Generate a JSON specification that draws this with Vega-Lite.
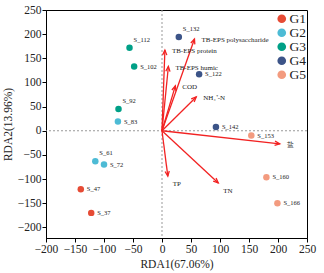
{
  "$schema": "https://vega.github.io/schema/vega-lite/v6.json",
  "width": 261,
  "height": 228,
  "autosize": {"type": "none"},
  "padding": {"left": 46, "top": 10, "right": 17, "bottom": 35},
  "config": {
    "view": {"stroke": "#000", "strokeWidth": 1},
    "font": "Liberation Serif",
    "axis": {
      "labelFont": "Liberation Serif", "labelFontSize": 11.5, "labelColor": "#222",
      "titleFont": "Liberation Serif", "titleFontSize": 11.5, "titleFontWeight": "normal", "titleColor": "#222",
      "domainColor": "#000", "tickColor": "#000", "tickSize": 4, "grid": false, "labelPadding": 1,
      "labelOverlap": false, "labelFlush": false, "tickCount": 10
    }
  },
  "datasets": {
    "samples": [
      {"sample": "S_37", "group": "G1", "x": -122, "y": -170, "pos": "side"},
      {"sample": "S_47", "group": "G1", "x": -140, "y": -121, "pos": "side"},
      {"sample": "S_61", "group": "G2", "x": -115, "y": -63, "pos": "above"},
      {"sample": "S_72", "group": "G2", "x": -100, "y": -70, "pos": "side"},
      {"sample": "S_83", "group": "G2", "x": -76, "y": 19, "pos": "side"},
      {"sample": "S_92", "group": "G3", "x": -75, "y": 45, "pos": "above"},
      {"sample": "S_102", "group": "G3", "x": -48, "y": 133, "pos": "side"},
      {"sample": "S_112", "group": "G3", "x": -56, "y": 172, "pos": "above"},
      {"sample": "S_122", "group": "G4", "x": 64, "y": 117, "pos": "side"},
      {"sample": "S_132", "group": "G4", "x": 29, "y": 194, "pos": "above"},
      {"sample": "S_142", "group": "G4", "x": 93, "y": 8, "pos": "side"},
      {"sample": "S_153", "group": "G5", "x": 154, "y": -10, "pos": "side"},
      {"sample": "S_160", "group": "G5", "x": 180, "y": -96, "pos": "side"},
      {"sample": "S_166", "group": "G5", "x": 199, "y": -150, "pos": "side"}
    ],
    "arrows": [
      {"name": "TB-EPS polysaccharide", "x": 56, "y": 190, "pos": "side"},
      {"name": "TB-EPS protein", "x": 5, "y": 167, "pos": "side"},
      {"name": "TB-EPS humic", "x": 11, "y": 133, "pos": "side"},
      {"name": "COD", "x": 23, "y": 93, "pos": "side"},
      {"name": "NH₄⁺-N", "x": 59, "y": 70, "pos": "side"},
      {"name": "盐", "x": 203, "y": -27, "pos": "side"},
      {"name": "TP", "x": 10, "y": -94, "pos": "below"},
      {"name": "TN", "x": 97, "y": -108, "pos": "below"}
    ],
    "zero": [{"v": 0}]
  },
  "layer": [
    {
      "data": {"name": "zero"},
      "mark": {"type": "rule", "color": "#999", "strokeDash": [2, 2], "strokeWidth": 1},
      "encoding": {"x": {"field": "v", "type": "quantitative", "title": "RDA1(67.06%)", "scale": {"domain": [-200, 250], "nice": false, "zero": false}, "axis": {"values": [-200, -150, -100, -50, 0, 50, 100, 150, 200, 250], "tickCount": 10}}}
    },
    {
      "data": {"name": "zero"},
      "mark": {"type": "rule", "color": "#999", "strokeDash": [2, 2], "strokeWidth": 1},
      "encoding": {"y": {"field": "v", "type": "quantitative", "title": "RDA2(13.96%)", "scale": {"domain": [-222, 250], "nice": false, "zero": false}, "axis": {"values": [-200, -150, -100, -50, 0, 50, 100, 150, 200, 250], "tickCount": 10}}}
    },
    {
      "data": {"name": "arrows"},
      "mark": {"type": "rule", "color": "#f22222", "strokeWidth": 1.3},
      "encoding": {
        "x": {"field": "x", "type": "quantitative"},
        "y": {"field": "y", "type": "quantitative"},
        "x2": {"datum": 0},
        "y2": {"datum": 0}
      }
    },
    {
      "data": {"name": "arrows"},
      "transform": [{"calculate": "atan2(datum.x * 0.58, datum.y * 0.483) * 180 / PI", "as": "ang"}],
      "mark": {"type": "point", "shape": "M-0.6,1.4L0,0L0.6,1.4", "filled": false, "stroke": "#f22222", "strokeWidth": 1.3, "size": 50, "opacity": 1},
      "encoding": {
        "x": {"field": "x", "type": "quantitative"},
        "y": {"field": "y", "type": "quantitative"},
        "angle": {"field": "ang", "type": "quantitative", "scale": null}
      }
    },
    {
      "data": {"name": "arrows"},
      "transform": [{"filter": "datum.pos == 'side'"}],
      "mark": {"type": "text", "align": "left", "baseline": "middle", "dx": 7, "dy": 1, "fontSize": 7, "font": "Liberation Serif", "color": "#222"},
      "encoding": {
        "x": {"field": "x", "type": "quantitative"},
        "y": {"field": "y", "type": "quantitative"},
        "text": {"field": "name"}
      }
    },
    {
      "data": {"name": "arrows"},
      "transform": [{"filter": "datum.pos == 'below'"}],
      "mark": {"type": "text", "align": "left", "baseline": "middle", "dx": 5, "dy": 8, "fontSize": 7, "font": "Liberation Serif", "color": "#222"},
      "encoding": {
        "x": {"field": "x", "type": "quantitative"},
        "y": {"field": "y", "type": "quantitative"},
        "text": {"field": "name"}
      }
    },
    {
      "data": {"name": "samples"},
      "mark": {"type": "point", "filled": true, "size": 42, "opacity": 1},
      "encoding": {
        "x": {"field": "x", "type": "quantitative"},
        "y": {"field": "y", "type": "quantitative"},
        "color": {
          "field": "group", "type": "nominal",
          "scale": {"domain": ["G1", "G2", "G3", "G4", "G5"], "range": ["#E64B35", "#4DBBD5", "#00A087", "#3C5488", "#F39B7F"]},
          "legend": {
            "title": null, "orient": "none", "legendX": 229, "legendY": 2,
            "symbolType": "circle", "symbolSize": 75, "symbolOpacity": 1,
            "labelFont": "Liberation Serif", "labelFontSize": 13.5, "labelColor": "#222",
            "rowPadding": -4.5, "labelOffset": 1
          }
        }
      }
    },
    {
      "data": {"name": "samples"},
      "transform": [{"filter": "datum.pos == 'side'"}],
      "mark": {"type": "text", "align": "left", "baseline": "middle", "dx": 6, "dy": 0, "fontSize": 6.5, "font": "Liberation Serif", "color": "#222"},
      "encoding": {
        "x": {"field": "x", "type": "quantitative"},
        "y": {"field": "y", "type": "quantitative"},
        "text": {"field": "sample"}
      }
    },
    {
      "data": {"name": "samples"},
      "transform": [{"filter": "datum.pos == 'above'"}],
      "mark": {"type": "text", "align": "left", "baseline": "middle", "dx": 4, "dy": -8, "fontSize": 6.5, "font": "Liberation Serif", "color": "#222"},
      "encoding": {
        "x": {"field": "x", "type": "quantitative"},
        "y": {"field": "y", "type": "quantitative"},
        "text": {"field": "sample"}
      }
    }
  ]
}
